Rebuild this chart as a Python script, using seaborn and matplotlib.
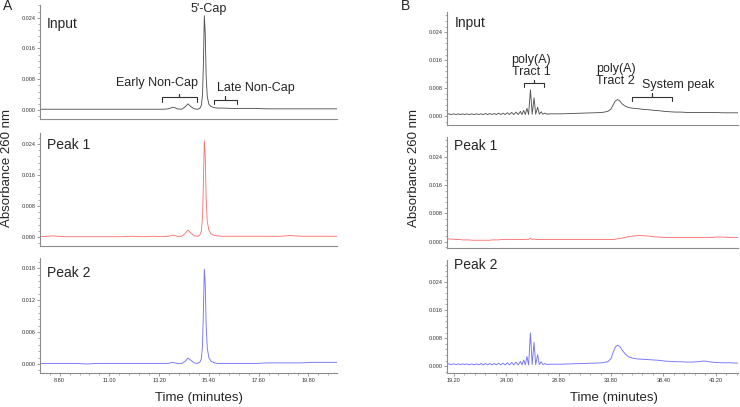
import matplotlib
matplotlib.use("Agg")
import matplotlib.pyplot as plt
import seaborn as sns
from matplotlib.ticker import AutoMinorLocator

# ---- data: panel A (cap analysis) ----
t_left = [7.93, 8.5, 9.0, 9.5, 10.0, 10.5, 11.0, 11.5, 12.0, 12.5, 13.0, 13.4, 13.6,
          13.8, 13.9, 14.0, 14.2, 14.35, 14.48, 14.6, 14.75, 14.9, 15.0, 15.07, 15.12,
          15.16, 15.2, 15.24, 15.28, 15.33, 15.4, 15.5, 15.65, 15.8, 16.0, 16.5, 17.0,
          17.5, 18.0, 18.5, 18.8, 19.0, 19.5, 20.0, 20.5, 21.07]
a_input = [0.0002, 0.0002, 0.0002, 0.0002, 0.0002, 0.0002, 0.0002, 0.0002, 0.0002, 0.0002,
           0.0002, 0.0002, 0.0003, 0.0007, 0.0006, 0.0003, 0.0002, 0.0008, 0.0016, 0.0009,
           0.0003, 0.0002, 0.0004, 0.0012, 0.004, 0.012, 0.0245, 0.020, 0.009, 0.0035,
           0.0015, 0.0009, 0.0006, 0.0005, 0.0005, 0.0004, 0.0004, 0.0004, 0.0003, 0.0003,
           0.0003, 0.0003, 0.0003, 0.0003, 0.0003, 0.0003]
a_peak1 = [0.0001, 0.0003, 0.0001, 0.0001, 0.0001, 0.0001, 0.0001, 0.0001, 0.0002, 0.0001,
           0.0002, 0.0001, 0.0002, 0.0005, 0.0004, 0.0002, 0.0002, 0.0009, 0.0018, 0.0011,
           0.0003, 0.0002, 0.0005, 0.0015, 0.005, 0.014, 0.0248, 0.021, 0.010, 0.004,
           0.0018, 0.0008, 0.0004, 0.0003, 0.0002, 0.0002, 0.0002, 0.0002, 0.0002, 0.0002,
           0.0003, 0.0004, 0.0002, 0.0002, 0.0002, 0.0002]
a_peak2 = [0.0001, 0.0001, 0.0001, 0.0001, 0.0000, 0.0001, 0.0001, 0.0001, 0.0001, 0.0001,
           0.0001, 0.0001, 0.0001, 0.0003, 0.0002, 0.0001, 0.0001, 0.0005, 0.0011, 0.0007,
           0.0002, 0.0001, 0.0003, 0.0010, 0.0035, 0.010, 0.0178, 0.015, 0.0075, 0.003,
           0.0012, 0.0005, 0.0002, 0.0001, 0.0001, 0.0001, 0.0001, 0.0001, 0.0002, 0.0002,
           0.0002, 0.0002, 0.0002, 0.0003, 0.0003, 0.0003]

# ---- data: panel B (poly(A) analysis) ----
t_right = [18.55, 18.75, 18.95, 19.2, 19.4, 19.6, 19.8, 20.0, 20.2, 20.4, 20.6, 20.85,
           21.05, 21.3, 21.5, 21.7, 21.9, 22.1, 22.3, 22.5, 22.7, 22.9, 23.1, 23.3, 23.5,
           23.7, 23.9, 24.1, 24.3, 24.5, 24.7, 24.9, 25.1, 25.3, 25.45, 25.6, 25.75, 25.9,
           26.05, 26.22, 26.38, 26.55, 26.7, 26.88, 27.03, 27.2, 27.35, 27.55, 27.75,
           28.0, 29.0, 30.0, 31.0, 32.0, 32.8, 33.3, 33.6, 33.8, 34.0, 34.2, 34.4, 34.6,
           34.9, 35.2, 35.6, 36.0, 36.5, 37.0, 37.5, 38.0, 38.5, 39.0, 39.5, 40.0, 40.5,
           41.0, 41.5, 41.8, 42.1, 42.4, 42.8, 43.2, 43.8, 44.5, 45.23]
b_input = [0.0005, 0.0006, 0.0004, 0.0006, 0.0004, 0.0006, 0.0004, 0.0006, 0.0004, 0.0006,
           0.0004, 0.0006, 0.0004, 0.0006, 0.0004, 0.0006, 0.0004, 0.0007, 0.0004, 0.0007,
           0.0004, 0.0007, 0.0004, 0.0008, 0.0004, 0.0008, 0.0004, 0.0009, 0.0004, 0.0010,
           0.0004, 0.0011, 0.0004, 0.0013, 0.0004, 0.0016, 0.0004, 0.0022, 0.0004, 0.0075,
           0.0005, 0.0052, 0.0005, 0.0025, 0.0005, 0.0012, 0.0005, 0.0008, 0.0005,
           0.0006, 0.0006, 0.0007, 0.0008, 0.0009, 0.0010, 0.0013, 0.0020, 0.0032, 0.0043,
           0.0047, 0.0043, 0.0035, 0.0028, 0.0024, 0.0022, 0.0021, 0.0019, 0.0018, 0.0016,
           0.0015, 0.0013, 0.0012, 0.0011, 0.0011, 0.0010, 0.0010, 0.0010, 0.0010, 0.0010,
           0.0010, 0.0010, 0.0010, 0.0009, 0.0009, 0.0009]
b_peak1 = [0.0008, 0.0008, 0.0007, 0.0007, 0.0006, 0.0006, 0.0006, 0.0005, 0.0005, 0.0005,
           0.0005, 0.0004, 0.0004, 0.0004, 0.0004, 0.0004, 0.0004, 0.0004, 0.0004, 0.0004,
           0.0005, 0.0005, 0.0005, 0.0005, 0.0006, 0.0006, 0.0006, 0.0006, 0.0006, 0.0006,
           0.0006, 0.0006, 0.0006, 0.0006, 0.0006, 0.0006, 0.0006, 0.0007, 0.0006, 0.0010,
           0.0006, 0.0008, 0.0006, 0.0006, 0.0006, 0.0006, 0.0006, 0.0006, 0.0006,
           0.0006, 0.0006, 0.0006, 0.0006, 0.0006, 0.0006, 0.0006, 0.0006, 0.0006, 0.0007,
           0.0008, 0.0009, 0.0010, 0.0012, 0.0014, 0.0016, 0.0017, 0.0017, 0.0016, 0.0014,
           0.0013, 0.0012, 0.0012, 0.0012, 0.0012, 0.0012, 0.0012, 0.0012, 0.0012, 0.0012,
           0.0012, 0.0012, 0.0013, 0.0013, 0.0012, 0.0012]
b_peak2 = [0.0006, 0.0007, 0.0005, 0.0007, 0.0005, 0.0007, 0.0005, 0.0007, 0.0005, 0.0007,
           0.0004, 0.0007, 0.0004, 0.0007, 0.0004, 0.0008, 0.0004, 0.0008, 0.0004, 0.0008,
           0.0004, 0.0008, 0.0004, 0.0009, 0.0004, 0.0009, 0.0004, 0.0010, 0.0004, 0.0011,
           0.0004, 0.0012, 0.0004, 0.0014, 0.0004, 0.0018, 0.0004, 0.0028, 0.0004, 0.0095,
           0.0005, 0.0068, 0.0005, 0.0033, 0.0005, 0.0013, 0.0005, 0.0008, 0.0005,
           0.0006, 0.0006, 0.0007, 0.0008, 0.0009, 0.0010, 0.0013, 0.0022, 0.0040, 0.0055,
           0.0060, 0.0056, 0.0047, 0.0035, 0.0027, 0.0023, 0.0021, 0.0020, 0.0019, 0.0018,
           0.0017, 0.0015, 0.0014, 0.0013, 0.0013, 0.0012, 0.0012, 0.0013, 0.0014, 0.0015,
           0.0014, 0.0012, 0.0011, 0.0010, 0.0010, 0.0009]

trace_names = ["Input", "Peak 1", "Peak 2"]
trace_colors = ["#555555", "#ff7373", "#7373ff"]

left_xticks = [8.8, 11.0, 13.2, 15.4, 17.6, 19.8]
left_xlabels = ["8.80", "11.00", "13.20", "15.40", "17.60", "19.80"]
right_xticks = [19.2, 24.0, 28.8, 33.6, 38.4, 43.2]
right_xlabels = ["19.20", "24.00", "28.80", "33.80", "38.40", "43.20"]

sns.set_style("ticks")
plt.rcParams['font.family'] = ['Liberation Sans', 'DejaVu Sans']

W, H = 740, 407
fig = plt.figure(figsize=(W / 100, H / 100), dpi=100)


def px_axes(x0, y0, x1, y1):
    # axes placed from pixel corners (top-left origin)
    return fig.add_axes([x0 / W, 1 - y1 / H, (x1 - x0) / W, (y1 - y0) / H])


left_rows = [(5, 119), (133, 246), (258, 373)]
right_rows = [(12, 125), (137, 248), (260, 373)]
left_ylims = [(-0.00234, 0.0273), (-0.0023, 0.0268), (-0.0017, 0.0199)]
right_ylims = [(-0.0026, 0.0298), (-0.0018, 0.0297), (-0.0019, 0.0302)]
left_yticks = [[0, 0.008, 0.016, 0.024], [0, 0.008, 0.016, 0.024], [0, 0.006, 0.012, 0.018]]
right_yticks = [0, 0.008, 0.016, 0.024]

spine_col = "#8c8c8c"


def style_axis(ax, xlim, ylim, yticks, xticks, xlabels, bottom):
    ax.set_xlim(*xlim)
    ax.set_ylim(*ylim)
    ax.set_yticks(yticks)
    ax.set_yticklabels([f"{v:.3f}" for v in yticks])
    ax.yaxis.set_minor_locator(AutoMinorLocator(5))
    for s in ["top", "right"]:
        ax.spines[s].set_visible(False)
    for s in ["left", "bottom"]:
        ax.spines[s].set_color(spine_col)
        ax.spines[s].set_linewidth(0.8)
    ax.tick_params(axis="y", which="major", length=2, width=0.6, color=spine_col,
                   labelsize=4, labelcolor="#333333", pad=1)
    ax.tick_params(axis="y", which="minor", length=1.2, width=0.5, color=spine_col)
    if bottom:
        ax.set_xticks(xticks)
        ax.set_xticklabels(xlabels)
        ax.xaxis.set_minor_locator(AutoMinorLocator(5))
        ax.tick_params(axis="x", which="major", length=2, width=0.6, color=spine_col,
                       labelsize=4, labelcolor="#333333", pad=1.5)
        ax.tick_params(axis="x", which="minor", length=1.2, width=0.5, color=spine_col)
    else:
        ax.set_xticks([])
        ax.tick_params(axis="x", which="minor", length=0)
    ax.set_xlabel("")
    ax.set_ylabel("")


def bracket(ax, x0, x1, y, drop, rise):
    xc = (x0 + x1) / 2
    ax.plot([x0, x0, xc, xc, xc, x1, x1],
            [y - drop, y, y, y + rise, y, y, y - drop],
            color="#333333", lw=0.8, solid_joinstyle="round")


left_series = [a_input, a_peak1, a_peak2]
right_series = [b_input, b_peak1, b_peak2]

left_axes = []
right_axes = []
for i in range(3):
    ax = px_axes(40, left_rows[i][0], 337, left_rows[i][1])
    sns.lineplot(x=t_left, y=left_series[i], ax=ax, color=trace_colors[i],
                 linewidth=0.65, estimator=None)
    style_axis(ax, (7.93, 21.07), left_ylims[i], left_yticks[i],
               left_xticks, left_xlabels, i == 2)
    left_axes.append(ax)

    ax = px_axes(446.7, right_rows[i][0], 738, right_rows[i][1])
    sns.lineplot(x=t_right, y=right_series[i], ax=ax, color=trace_colors[i],
                 linewidth=0.65, estimator=None)
    style_axis(ax, (18.55, 45.23), right_ylims[i], right_yticks,
               right_xticks, right_xlabels, i == 2)
    right_axes.append(ax)

# annotations, panel A input
axA = left_axes[0]
axA.text(15.39, 0.0262, "5'-Cap", ha="center", va="center", fontsize=9)
axA.text(13.09, 0.0071, "Early Non-Cap", ha="center", va="center", fontsize=9)
bracket(axA, 13.32, 14.86, 0.00345, 0.0013, 0.0007)
axA.text(17.46, 0.0056, "Late Non-Cap", ha="center", va="center", fontsize=9)
bracket(axA, 15.64, 16.63, 0.0026, 0.001, 0.001)

# annotations, panel B input
axB = right_axes[0]
axB.text(26.27, 0.0144, "poly(A)\nTract 1", ha="center", va="center", fontsize=9,
         linespacing=1.0)
bracket(axB, 25.66, 27.46, 0.0094, 0.0011, 0.0008)
axB.text(34.03, 0.0117, "poly(A)\nTract 2", ha="center", va="center", fontsize=9,
         linespacing=1.0)
axB.text(39.76, 0.0089, "System peak", ha="center", va="center", fontsize=9)
bracket(axB, 35.55, 39.16, 0.0054, 0.0012, 0.0012)

# panel names
left_name_y = [24, 145, 272.7]
right_name_y = [23.3, 146, 265]
for i, name in enumerate(trace_names):
    fig.text(47 / W, 1 - left_name_y[i] / H, name, ha="left", va="center", fontsize=10)
    fig.text(454.3 / W, 1 - right_name_y[i] / H, name, ha="left", va="center", fontsize=10)

fig.text(8 / W, 1 - 6 / H, "A", ha="center", va="center", fontsize=10)
fig.text(406 / W, 1 - 6.5 / H, "B", ha="center", va="center", fontsize=10)

fig.text(7 / W, 1 - 168 / H, "Absorbance 260 nm", rotation=90, ha="center", va="center",
         fontsize=9.5)
fig.text(414 / W, 1 - 168 / H, "Absorbance 260 nm", rotation=90, ha="center",
         va="center", fontsize=9.5)
fig.text(199 / W, 1 - 398 / H, "Time (minutes)", ha="center", va="center", fontsize=9.5)
fig.text(614 / W, 1 - 398 / H, "Time (minutes)", ha="center", va="center", fontsize=9.5)

fig.savefig("out.png", dpi=100, facecolor="white")
